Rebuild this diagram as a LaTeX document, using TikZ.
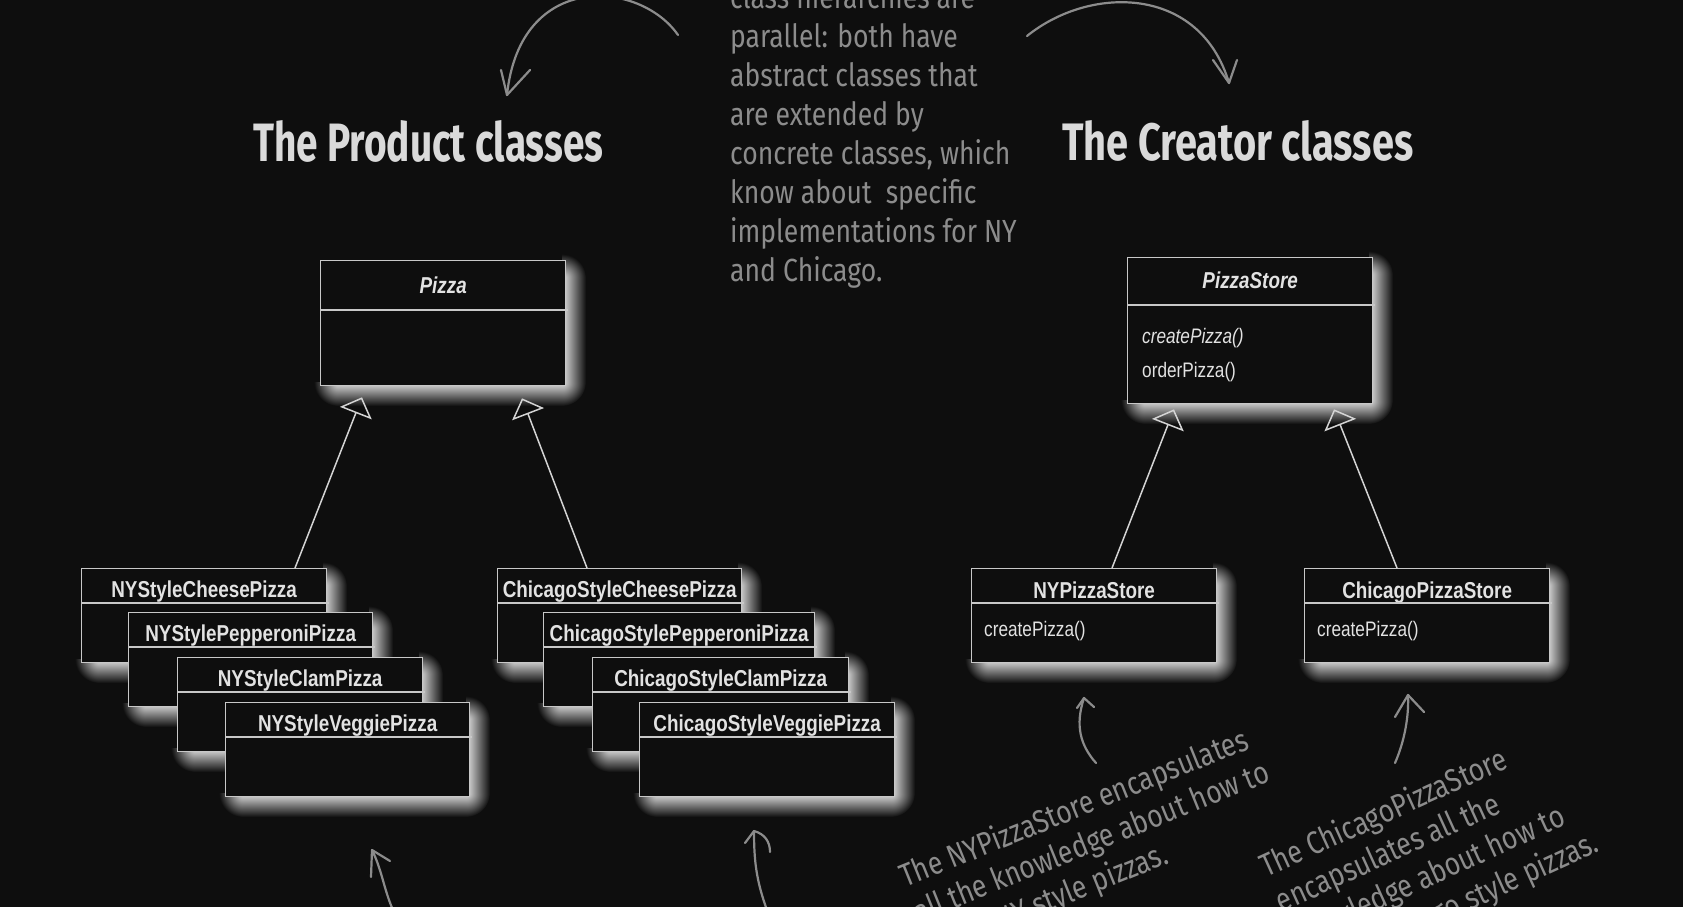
\documentclass[tikz,border=0pt]{standalone}
\usepackage{fontspec}
\usepackage{graphicx}
\usetikzlibrary{arrows.meta}
\newfontfamily\umlfont[FakeStretch=0.82]{Liberation Sans}
\newfontfamily\handfont[FakeStretch=0.83]{Fira Sans}
\newfontfamily\titlefont{Fira Sans}
\definecolor{bg}{RGB}{14,14,14}
\definecolor{glowc}{RGB}{228,228,228}
\definecolor{boxline}{RGB}{200,200,200}
\definecolor{boxtext}{RGB}{226,226,226}
\definecolor{handgray}{RGB}{140,140,140}
\definecolor{titlecol}{RGB}{218,218,218}
\definecolor{linkcol}{RGB}{212,212,212}
\tikzset{
  glowh/.style={left color=glowc, right color=bg},
  glowv/.style={top color=glowc, bottom color=bg},
  glowr/.style={inner color=glowc, outer color=bg},
  umlbox/.style={draw=boxline, line width=1.3pt, fill=bg, anchor=north west, inner sep=0pt},
  divline/.style={draw=boxline, line width=1.3pt},
  hdr/.style={text=boxtext, inner sep=0pt, anchor=base, font=\umlfont\bfseries\fontsize{23}{23}\selectfont},
  hdrit/.style={hdr, font=\umlfont\bfseries\itshape\fontsize{23}{23}\selectfont},
  meth/.style={text=boxtext, inner sep=0pt, anchor=base west, font=\umlfont\fontsize{21}{21}\selectfont},
  methit/.style={meth, font=\umlfont\itshape\fontsize{21}{21}\selectfont},
  inherit/.style={draw=linkcol, line width=1.5pt, -{Triangle[open, length=17pt, width=34pt, line width=1.5pt]}},
  handtext/.style={text=handgray, inner sep=0pt, anchor=base west, font=\handfont\fontsize{32}{38}\selectfont},
  handarrow/.style={draw=handgray, line width=2.2pt, line cap=round, line join=round},
  titletext/.style={text=titlecol, inner sep=0pt, anchor=base west, font=\titlefont\bfseries}
}
% soft glow to the lower right of a box (x1,y1)-(x2,y2), y grows downwards
\newcommand\boxglow[4]{%
  \shade[glowh] ({#3-3},{#2+18}) rectangle ({#3+21},{#4-3});
  \shade[glowv] ({#1+18},{#4-3}) rectangle ({#3-3},{#4+21});
  \begin{scope}
    \clip ({#3-3},{#4-3}) rectangle ({#3+21},{#4+21});
    \shade[glowr] ({#3-3},{#4-3}) circle (24pt);
  \end{scope}
  \begin{scope}
    \clip ({#3-3},{#2-6}) rectangle ({#3+21},{#2+18});
    \shade[glowr] ({#3-3},{#2+18}) circle (24pt);
  \end{scope}
  \begin{scope}
    \clip ({#1-6},{#4-3}) rectangle ({#1+18},{#4+21});
    \shade[glowr] ({#1+18},{#4-3}) circle (24pt);
  \end{scope}}
\begin{document}
\begin{tikzpicture}[x=1pt, y=-1pt]
\useasboundingbox (0,0) rectangle (1683,907);
\fill[bg] (0,0) rectangle (1683,907);
\clip (0,0) rectangle (1683,907);

% titles
\node[titletext] (ptitle) at (253,161) {\resizebox{350pt}{41pt}{The Product classes}};
\node[titletext] (ctitle) at (1062,160) {\resizebox{351pt}{40pt}{The Creator classes}};

% note at the top
\foreach \i/\t in {0/class hierarchies are, 1/parallel: both have, 2/abstract classes that,
  3/are extended by, 4/{concrete classes, which}, 5/know about\ \ specific,
  6/implementations for NY, 7/and Chicago.}{
  \node[handtext] (note\i) at (730, 9+38.9*\i) {\t};
}
\coordinate (a1s) at (678,35);
\coordinate (a1t) at (507,95);
\draw[handarrow] (a1s) .. controls (640,-20) and (520,-30) .. (a1t);
\draw[handarrow] (501,70) -- (a1t) -- (530,70);
\coordinate (a2s) at (1027,36);
\coordinate (a2t) at (1229,83);
\draw[handarrow] (a2s) .. controls (1090,-15) and (1200,-15) .. (a2t);
\draw[handarrow] (1213,60) -- (a2t) -- (1237,60);

% abstract classes
\boxglow{320}{260}{565}{385}
\node[umlbox, minimum width=245pt, minimum height=125pt] (pizza) at (320,260) {};
\node[hdrit] (pizza-t) at ([yshift=-33pt]pizza.north) {Pizza};
\draw[divline] ([yshift=-50pt]pizza.north west) -- ([yshift=-50pt, xshift=2pt]pizza.north east);

\boxglow{1127}{257}{1372}{403}
\node[umlbox, minimum width=245pt, minimum height=146pt] (store) at (1127,257) {};
\node[hdrit] (store-t) at ([yshift=-31pt]store.north) {PizzaStore};
\draw[divline] ([yshift=-48pt]store.north west) -- ([yshift=-48pt, xshift=2pt]store.north east);
\node[methit] (store-m1) at ([xshift=15pt, yshift=-86pt]store.north west) {createPizza()};
\node[meth] (store-m2) at ([xshift=15pt, yshift=-120pt]store.north west) {orderPizza()};

% concrete products
\foreach \n/\x/\y/\w/\t in {nycheese/81/568/245/NYStyleCheesePizza,
  nypep/128/612/244/NYStylePepperoniPizza,
  nyclam/177/657/245/NYStyleClamPizza,
  nyveg/225/702/244/NYStyleVeggiePizza,
  chcheese/497/568/244/ChicagoStyleCheesePizza,
  chpep/543/612/271/ChicagoStylePepperoniPizza,
  chclam/592/657/256/ChicagoStyleClamPizza,
  chveg/639/702/255/ChicagoStyleVeggiePizza}{
  \boxglow{\x}{\y}{\x+\w}{\y+94}
  \node[umlbox, minimum width=\w pt, minimum height=94pt] (\n) at (\x,\y) {};
  \node[hdr] (\n-t) at ([yshift=-29pt]\n.north) {\t};
  \draw[divline] ([yshift=-35pt]\n.north west) -- ([yshift=-35pt, xshift=2pt]\n.north east);
}

% concrete creators
\foreach \n/\x/\t in {nystore/971/NYPizzaStore, chstore/1304/ChicagoPizzaStore}{
  \boxglow{\x}{568}{\x+245}{662}
  \node[umlbox, minimum width=245pt, minimum height=94pt] (\n) at (\x,568) {};
  \node[hdr] (\n-t) at ([yshift=-30pt]\n.north) {\t};
  \draw[divline] ([yshift=-35pt]\n.north west) -- ([yshift=-35pt, xshift=2pt]\n.north east);
  \node[meth] (\n-m) at ([xshift=13pt, yshift=-68pt]\n.north west) {createPizza()};
}

% inheritance
\draw[inherit] ([xshift=214pt]nycheese.north west) -- ([xshift=42pt, yshift=-11pt]pizza.south west);
\draw[inherit] ([xshift=90pt]chcheese.north west) -- ([xshift=202pt, yshift=-12pt]pizza.south west);
\draw[inherit] ([xshift=141pt]nystore.north west) -- ([xshift=47pt, yshift=-5pt]store.south west);
\draw[inherit] ([xshift=93pt]chstore.north west) -- ([xshift=207pt, yshift=-5pt]store.south west);

% bottom notes
\begin{scope}[shift={(905,888)}, rotate=22, transform shape]
  \foreach \i/\t in {0/The NYPizzaStore encapsulates, 1/all the knowledge about how to, 2/make NY style pizzas.}{
    \node[handtext] (nynote\i) at (0, 38*\i) {\t};
  }
\end{scope}
\begin{scope}[shift={(1266,878)}, rotate=24.5, transform shape]
  \foreach \i/\t in {0/The ChicagoPizzaStore, 1/encapsulates all the, 2/knowledge about how to, 3/make Chicago style pizzas.}{
    \node[handtext] (chnote\i) at (0, 38*\i) {\t};
  }
\end{scope}

% hand-drawn arrows at the bottom
\coordinate (b1s) at (393,910); \coordinate (b1t) at (372,850);
\draw[handarrow] (b1s) .. controls (384,890) and (382,870) .. (b1t);
\draw[handarrow] (371,877) -- (b1t) -- (390,861);
\coordinate (b2s) at (767,910); \coordinate (b2t) at (754,831);
\draw[handarrow] (b2s) .. controls (756,880) and (754,860) .. (b2t);
\draw[handarrow] (745,843) -- (b2t) .. controls (765,834) and (770,842) .. (770,852);
\coordinate (b3s) at (1096,763); \coordinate (b3t) at (1084,698);
\draw[handarrow] (b3s) .. controls (1080,745) and (1075,725) .. (b3t);
\draw[handarrow] (1077,708) -- (b3t) -- (1094,707);
\coordinate (b4s) at (1395,763); \coordinate (b4t) at (1408,695);
\draw[handarrow] (b4s) .. controls (1405,740) and (1409,715) .. (b4t);
\draw[handarrow] (1395,717) -- (b4t) -- (1424,712);
\end{tikzpicture}
\end{document}
